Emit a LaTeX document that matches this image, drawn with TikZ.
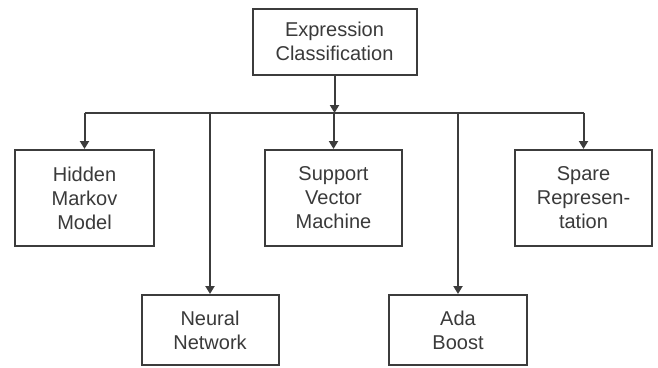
\documentclass[tikz,border=0pt]{standalone}
\usepackage{fontspec}
\setmainfont{Liberation Sans}
\usepackage{tikz}
\usetikzlibrary{arrows.meta}
\definecolor{cLine}{HTML}{3C3C3C}
\definecolor{cText}{HTML}{3A3A3A}

\begin{document}
\begin{tikzpicture}[x=1pt, y=-1pt,
  box/.style={draw=cLine, line width=2pt, fill=white, align=center, inner sep=0pt,
    text=cText, font=\fontsize{20}{24}\selectfont},
  arr/.style={draw=cLine, line width=2pt, -{Triangle[width=9pt, length=8pt]}},
  bar/.style={draw=cLine, line width=2pt}]
\useasboundingbox (0,0) rectangle (658,367);
% ---- the root and the split (bar at y 113) ------------------------------------------------
\node[box, minimum width=164pt, minimum height=66pt] (root) at (334.5,41.5) {Expression\\ Classification};
\coordinate (split) at (334.5,113);
% ---- upper row (y 150 -- 246) ------------------------------------------------------------------
\node[box, minimum width=139pt, minimum height=96pt] (hmm) at (84.5,198) {Hidden\\ Markov\\ Model};
\node[box, minimum width=137pt, minimum height=96pt] (svm) at (333.5,198) {Support\\ Vector\\ Machine};
\node[box, minimum width=137pt, minimum height=96pt] (spare) at (583.5,198) {Spare\\ Represen-\\ tation};
% ---- lower row (y 295 -- 365) ------------------------------------------------------------------
\node[box, minimum width=137pt, minimum height=70pt] (nn) at (210,330) {Neural\\ Network};
\node[box, minimum width=138pt, minimum height=70pt] (ada) at (458,330) {Ada\\ Boost};
% ---- connectors ---------------------------------------------------------------------------------
\draw[arr] (root.south) -- (split);
\draw[bar] (hmm |- split) -- (spare |- split);
\foreach \n in {hmm, nn, svm, ada, spare}
  \draw[arr] (\n |- split) -- (\n.north);
\end{tikzpicture}
\end{document}
